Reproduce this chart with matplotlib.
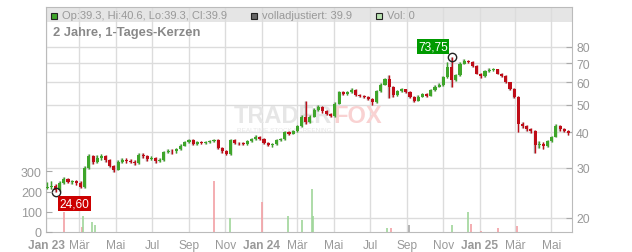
import matplotlib
matplotlib.use("Agg")
import matplotlib.pyplot as plt
import matplotlib.patches as patches
import matplotlib.dates as mdates
import pandas as pd

plt.rcParams['font.family'] = ['Liberation Sans', 'DejaVu Sans']

# weekly candles (week centres)
week_start = "2023-01-06"
opens = [25.4, 25.7, 26.0, 25.0, 26.6, 27.4, 26.8, 27.0, 26.6, 25.8,
         30.0, 33.0, 31.5, 32.5, 33.0, 32.0, 30.5, 29.6, 31.6, 32.0,
         31.8, 31.6, 31.2, 33.4, 33.0, 32.2, 32.6, 31.8, 32.0, 34.2,
         34.4, 34.3, 35.0, 35.9, 37.0, 37.6, 36.4, 37.0, 36.7, 37.0,
         37.2, 37.6, 35.2, 34.3, 33.6, 37.5, 36.7, 36.6, 36.4, 37.2,
         37.8, 38.6, 38.0, 36.7, 36.2, 36.4, 37.6, 37.8, 40.0, 39.6,
         40.4, 42.0, 45.3, 43.5, 45.5, 48.0, 49.3, 47.5, 46.5, 45.7,
         50.5, 55.5, 54.6, 55.5, 56.6, 54.0, 53.8, 53.2, 52.4, 51.0,
         56.0, 59.0, 61.5, 58.0, 54.0, 56.0, 56.8, 55.5, 53.5, 51.8,
         53.5, 54.6, 53.8, 56.5, 58.0, 58.8, 62.5, 68.0, 61.0, 63.5,
         69.9, 71.5, 71.0, 68.5, 64.5, 63.0, 65.6, 66.5, 66.8, 64.5,
         63.2, 60.0, 57.0, 53.5, 42.8, 42.1, 41.1, 40.5, 36.0, 36.4,
         35.8, 37.2, 38.6, 42.0, 41.2, 40.5]
closes = [25.7, 26.0, 25.0, 26.6, 27.4, 26.8, 27.0, 26.6, 25.8, 30.0,
          33.0, 31.5, 32.5, 33.0, 32.0, 30.5, 29.6, 31.6, 32.0, 31.8,
          31.6, 31.2, 33.4, 33.0, 32.2, 32.6, 31.8, 32.0, 34.2, 34.4,
          34.3, 35.0, 35.9, 37.0, 37.6, 36.4, 37.0, 36.7, 37.0, 37.2,
          37.6, 35.2, 34.3, 33.6, 37.5, 36.7, 36.6, 36.4, 37.2, 37.8,
          38.6, 38.0, 36.7, 36.2, 36.4, 37.6, 37.8, 40.0, 39.6, 40.4,
          42.0, 45.3, 43.5, 45.5, 48.0, 49.3, 47.5, 46.5, 45.7, 50.5,
          55.5, 54.6, 55.5, 56.6, 54.0, 53.8, 53.2, 52.4, 51.0, 56.0,
          59.0, 61.5, 58.0, 54.0, 56.0, 56.8, 55.5, 53.5, 51.8, 53.5,
          54.6, 53.8, 56.5, 58.0, 58.8, 62.5, 68.0, 61.0, 63.5, 69.9,
          71.5, 71.0, 68.5, 64.5, 63.0, 65.6, 66.5, 66.8, 64.5, 63.2,
          60.0, 57.0, 53.5, 42.8, 42.1, 41.1, 40.5, 36.0, 36.4, 35.8,
          37.2, 38.6, 42.0, 41.2, 40.5, 39.9]
highs = [26.8, 26.9, 26.3, 26.9, 27.8, 27.6, 27.3, 27.2, 26.9, 30.5,
         33.6, 33.3, 33.2, 33.6, 33.3, 32.3, 30.8, 31.9, 32.5, 32.4,
         32.2, 31.9, 34.0, 33.8, 33.2, 33.0, 32.9, 32.4, 34.5, 34.9,
         35.0, 35.4, 36.5, 37.4, 38.0, 37.8, 37.4, 37.3, 37.4, 37.7,
         38.0, 37.8, 35.5, 34.6, 37.9, 37.8, 37.1, 37.0, 37.6, 38.2,
         39.1, 38.9, 38.2, 36.9, 36.8, 37.9, 38.1, 40.4, 40.5, 40.9,
         42.6, 46.0, 51.6, 46.0, 48.6, 49.8, 49.6, 47.9, 46.9, 51.2,
         56.2, 56.0, 56.1, 57.2, 56.9, 54.6, 54.3, 53.6, 52.7, 56.6,
         59.6, 62.4, 63.5, 58.3, 56.5, 57.4, 57.1, 55.8, 53.8, 54.0,
         55.2, 55.0, 57.0, 58.6, 59.5, 63.4, 70.8, 73.75, 64.2, 70.6,
         72.4, 72.2, 71.4, 68.9, 65.0, 66.2, 67.2, 67.6, 67.1, 65.0,
         63.5, 60.4, 57.4, 53.8, 43.6, 42.5, 41.6, 40.8, 37.2, 37.0,
         37.6, 39.0, 43.0, 42.4, 41.6, 40.9]
lows = [25.2, 25.3, 24.6, 24.9, 26.3, 26.5, 26.4, 26.2, 25.5, 25.6,
        29.8, 31.0, 31.2, 32.0, 31.6, 30.2, 29.0, 29.4, 31.2, 31.3,
        31.2, 30.8, 31.0, 32.5, 31.8, 31.9, 31.3, 31.4, 31.8, 33.8,
        33.6, 34.0, 34.8, 35.7, 36.8, 36.1, 36.2, 36.4, 36.4, 36.8,
        36.9, 34.9, 34.0, 33.2, 33.4, 36.4, 36.2, 36.0, 36.2, 37.0,
        37.6, 37.6, 36.4, 35.8, 35.6, 36.2, 37.2, 37.6, 39.2, 39.4,
        40.2, 41.8, 43.0, 43.2, 45.2, 47.6, 47.0, 46.1, 45.2, 45.5,
        50.3, 54.0, 54.2, 55.2, 53.6, 53.2, 52.8, 51.9, 49.8, 50.8,
        55.7, 58.7, 53.0, 53.3, 53.6, 55.6, 55.0, 53.0, 51.2, 51.5,
        53.2, 53.2, 53.6, 56.2, 57.6, 58.5, 62.2, 58.0, 60.6, 63.2,
        69.5, 70.2, 68.0, 64.0, 62.4, 62.8, 65.2, 66.0, 64.0, 62.8,
        59.5, 56.5, 52.8, 40.2, 41.6, 40.6, 39.8, 34.0, 35.2, 35.0,
        35.5, 36.9, 38.4, 40.6, 40.0, 39.3]

# volume spikes
vol_dates = ["2023-02-03", "2023-03-06", "2023-03-07", "2023-03-22", "2023-03-28",
             "2023-10-13", "2023-11-09", "2024-01-02", "2024-02-15", "2024-03-08",
             "2024-03-26", "2024-03-28", "2024-07-29", "2024-08-05", "2024-09-05",
             "2024-11-15", "2024-12-13", "2024-12-18", "2025-01-03", "2025-01-31",
             "2025-03-04"]
vol_values = [100, 25, 80, 50, 35, 252, 70, 150, 80, 60, 212, 80, 20, 20, 35,
              35, 100, 40, 5, 20, 30]
vol_dir = ["r", "r", "g", "g", "g", "r", "g", "r", "g", "g", "g", "g", "g", "r", "n",
           "g", "g", "r", "r", "r", "r"]

month_ticks = ["2023-03-01", "2023-05-01", "2023-07-01", "2023-09-01", "2023-11-01",
               "2024-01-01", "2024-03-01", "2024-05-01", "2024-07-01", "2024-09-01",
               "2024-11-01", "2025-01-01", "2025-03-01", "2025-05-01"]
month_labels = ["Mär", "Mai", "Jul", "Sep", "Nov", "Jan 24", "Mär", "Mai", "Jul",
                "Sep", "Nov", "Jan 25", "Mär", "Mai"]

GREEN = '#3ea52a'
RED = '#bf0d18'
GRID = '#dcdcdc'
TXT = '#999999'

dates = pd.date_range(week_start, periods=len(closes), freq='7D')
x = mdates.date2num(dates)

fig = plt.figure(figsize=(6.32, 2.53), dpi=100)
W, H = 632, 253
ax = fig.add_axes([46 / W, 20 / H, 526 / W, 225 / H])
ax.set_yscale('log')
ax.set_ylim(17.85, 110.6)
x0 = mdates.date2num(pd.Timestamp("2023-01-04"))
x1 = mdates.date2num(pd.Timestamp("2025-06-05"))
ax.set_xlim(x0, x1)

# volume axis (left)
axv = ax.twinx()
axv.set_ylim(0, 1112)
axv.set_xlim(x0, x1)
axv.yaxis.tick_left()
axv.yaxis.set_label_position('left')
axv.set_yticks([0, 100, 200, 300])
axv.tick_params(axis='y', direction='in', length=4, color='#aaaaaa', labelsize=9,
                labelcolor=TXT, pad=3)
for s in axv.spines.values():
    s.set_visible(False)

# legend band
ax.add_patch(patches.Rectangle((0, 1 - 15 / 225), 1, 15 / 225, transform=ax.transAxes,
                               fc='#e5e5e5', ec='none', zorder=0.2))

# price axis (right)
ax.set_axisbelow(True)
ax.set_yticks([20, 30, 40, 50, 60, 70, 80])
ax.set_yticklabels(['20', '30', '40', '50', '60', '70', '80'])
ax.yaxis.set_minor_locator(matplotlib.ticker.NullLocator())
ax.yaxis.tick_right()
ax.yaxis.set_label_position('right')
ax.tick_params(axis='y', direction='in', length=4, color='#aaaaaa', labelsize=8.8,
               labelcolor=TXT, pad=3)
tick_x = [x0] + list(mdates.date2num(pd.to_datetime(month_ticks)))
ax.set_xticks(tick_x)
ax.set_xticklabels(["Jan 23"] + month_labels)
ax.tick_params(axis='x', length=0, labelsize=8.6, labelcolor=TXT, pad=5)
for lbl in ax.get_xticklabels():
    if lbl.get_text().startswith("Jan"):
        lbl.set_fontweight('bold')
ax.grid(True, color=GRID, lw=1)
for s in ax.spines.values():
    s.set_color('#bbbbbb')

# watermark (behind the candles)
ax.text(283 / W, 1 - 117 / H, "TRADER", ha='center', va='center', fontsize=17,
        fontweight='bold', color='#e6e6e6', zorder=1, transform=fig.transFigure)
ax.text(358 / W, 1 - 117 / H, "FOX", ha='center', va='center', fontsize=17,
        fontweight='bold', color='#f9d2d2', zorder=1, transform=fig.transFigure)
ax.text(284 / W, 1 - 130 / H, "REALTIME STOCK SCREENING", ha='center', va='center',
        fontsize=4.6, color='#e6e6e6', zorder=1, transform=fig.transFigure)

# candles
cols = [GREEN if c >= o else RED for o, c in zip(opens, closes)]
ax.vlines(x - 1.4, lows, highs, color='#a8a8a8', lw=1.0, zorder=2)
ax.vlines(x, lows, highs, color=cols, lw=1.0, zorder=3)
bottoms = [min(o, c) for o, c in zip(opens, closes)]
heights = [max(abs(c - o), 0.15) for o, c in zip(opens, closes)]
ax.bar(x, heights, bottom=bottoms, width=5.2, color=cols, lw=0, zorder=3)

# markers for extremes
hi_i = highs.index(max(highs))
lo_i = lows.index(min(lows))
ax.plot(x[hi_i], highs[hi_i], 'o', mfc='none', mec='#222222', ms=6, mew=1, zorder=5)
ax.plot(x[lo_i], lows[lo_i], 'o', mfc='none', mec='#222222', ms=6, mew=1, zorder=5)
ax.annotate("73,75", xy=(x[hi_i], highs[hi_i]), xytext=(-13.5, 7.8),
            textcoords='offset points', ha='center', va='center', color='white',
            fontsize=8.6, zorder=6,
            bbox=dict(boxstyle='square,pad=0.12', fc='#009a00', ec='none'))
ax.annotate("24,60", xy=(x[lo_i], lows[lo_i]), xytext=(13.5, -8.0),
            textcoords='offset points', ha='center', va='center', color='white',
            fontsize=8.6, zorder=6,
            bbox=dict(boxstyle='square,pad=0.12', fc='#cc0000', ec='none'))

vcol = {'g': '#9fd69a', 'r': '#f2a0a4', 'n': '#a8a8a8'}
vx = mdates.date2num(pd.to_datetime(vol_dates))
axv.vlines(vx, 0, vol_values, color=[vcol[d] for d in vol_dir], lw=1.2)

# legend row
def legend_item(px, fc, label):
    fig.patches.append(patches.Rectangle((px / W, 1 - 19.5 / H), 6 / W, 6 / H,
                                         transform=fig.transFigure, fc=fc,
                                         ec='#222222', lw=0.8))
    fig.text((px + 11) / W, 1 - 16.2 / H, label, ha='left', va='center',
             fontsize=8, color=TXT)

legend_item(51, '#3ea52a', "Op:39.3, Hi:40.6, Lo:39.3, Cl:39.9")
legend_item(251, '#666666', "volladjustiert: 39.9")
legend_item(376, '#b8e2b0', "Vol: 0")

fig.text(53 / W, 1 - 33 / H, "2 Jahre, 1-Tages-Kerzen", ha='left', va='center',
         fontsize=9.3, fontweight='bold', color='#888888')

fig.savefig("out.png", dpi=100, facecolor='white')
